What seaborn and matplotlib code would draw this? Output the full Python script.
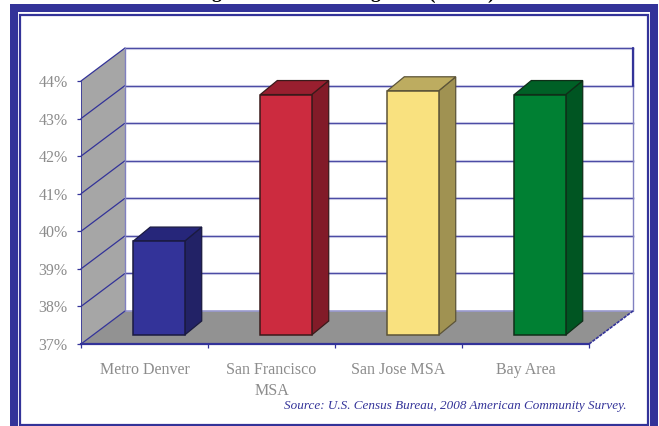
import numpy as np
import pandas as pd
import seaborn as sns
import matplotlib.pyplot as plt
from matplotlib.patches import Polygon, Rectangle
from matplotlib.ticker import FuncFormatter
from matplotlib.transforms import Affine2D

regioes = ["Metro Denver", "San Francisco\nMSA", "San Jose MSA", "Bay Area"]
valores = [39.5, 43.4, 43.5, 43.4]
cores_frente = ["#333399", "#CC2B3F", "#F9E17F", "#008033"]
cores_lado = ["#222266", "#821B28", "#A09252", "#005522"]
cores_topo = ["#26267A", "#991F2F", "#BDAC60", "#006026"]
cores_borda = ["#1A1A40", "#3A1A1A", "#5C5438", "#0F2E18"]
ticks_y = [37, 38, 39, 40, 41, 42, 43, 44]
# o titulo esta cortado no original: so as caudas destas letras aparecem
titulo_letras = ["g", "g", "(", ")"]
titulo_x = [216, 375, 431, 491]

AZUL = "#333399"
CINZA = "#8C8C8C"

sns.set_style("white")
plt.rcParams["font.family"] = ["Liberation Serif", "DejaVu Serif"]

fig = plt.figure(figsize=(6.59, 4.26), dpi=100)
W, H = 659, 426
ax = fig.add_axes([81 / W, (H - 344) / H, 508 / W, 263 / H])

table = pd.DataFrame({"regiao": regioes, "valor": valores})
sns.barplot(data=table, x="regiao", y="valor", hue="regiao", palette=cores_frente,
            legend=False, width=0.405, saturation=1, ax=ax, zorder=5)
ax.set_xlim(-0.5, 3.5)
ax.set_ylim(37, 44)


def desloca(dx, dy):
    # deslocamento em pixels, da frente para o fundo do "3D"
    return ax.transData + Affine2D().translate(dx, dy)


fundo = desloca(44, 33)
x0, x1 = -0.5, 3.5
px = 4 / 508  # pixel -> categoria
py = 7 / 263  # pixel -> pontos percentuais


def pts(xs, ys, dxs, dys):
    return [(x + dx * px, y + dy * py) for x, y, dx, dy in zip(xs, ys, dxs, dys)]


# paredes e chao
parede = Polygon(pts([x0, x0, x0, x0], [37, 44, 44, 37], [0, 0, 44, 44], [0, 0, 33, 33]),
                 closed=True, fc="#A6A6A6", ec="none", zorder=1, clip_on=False)
chao = Polygon(pts([x0, x1, x1, x0], [37, 37, 37, 37], [0, 0, 44, 44], [0, 0, 33, 33]),
               closed=True, fc="#929292", ec="none", zorder=1, clip_on=False)
ax.add_patch(parede)
ax.add_patch(chao)

# grades: fundo e diagonal na parede
for t in ticks_y:
    if t > 37:
        ax.plot([x0, x1], [t, t], color="#D8D8EC", lw=2.2, transform=fundo, zorder=2, clip_on=False)
        ax.plot([x0, x1], [t, t], color=AZUL, lw=0.9, alpha=0.85, transform=fundo, zorder=2, clip_on=False)
    else:
        ax.plot([x0, x1], [t, t], color="#9A9AD0", lw=1.2, transform=fundo, zorder=2, clip_on=False)
    ax.plot(*zip(*pts([x0, x0], [t, t], [0, 44], [0, 33])), color=AZUL, lw=0.9, zorder=2, clip_on=False)

# canto direito do fundo e aresta do chao
ax.plot([x1, x1], [37, 44], color="#8080C0", lw=1, transform=fundo, zorder=2, clip_on=False)
ax.plot([x1, x1], [43, 44], color=AZUL, lw=1.6, transform=fundo, zorder=2, clip_on=False)
ax.plot([x0, x0], [37, 44], color="#8080C0", lw=1, transform=fundo, zorder=2, clip_on=False)
ax.plot(*zip(*pts([x1, x1], [37, 37], [0, 44], [0, 33])), color=AZUL, lw=1.2, ls=(0, (2, 0.6)), zorder=3, clip_on=False)

# barras: frente vem do seaborn, lado e topo sao montados a partir dela
frente = desloca(14.5, 9)
prof_x, prof_y = 17, 14
for i, barra in enumerate(ax.patches[:len(valores)]):
    xb, larg = barra.get_x(), barra.get_width()
    v = valores[i]
    barra.set_y(37)
    barra.set_height(v - 37)
    barra.set_transform(frente)
    barra.set_edgecolor(cores_borda[i])
    barra.set_linewidth(1.1)
    barra.set_clip_on(False)
    xd = xb + larg
    lado = Polygon(pts([xd, xd, xd, xd], [37, v, v, 37], [0, 0, prof_x, prof_x], [0, 0, prof_y, prof_y]),
                   closed=True, fc=cores_lado[i], ec=cores_borda[i], lw=0.9, transform=frente, zorder=4, clip_on=False)
    topo = Polygon(pts([xb, xd, xd, xb], [v, v, v, v], [0, 0, prof_x, prof_x], [0, 0, prof_y, prof_y]),
                   closed=True, fc=cores_topo[i], ec=cores_borda[i], lw=0.9, transform=frente, zorder=4, clip_on=False)
    ax.add_patch(lado)
    ax.add_patch(topo)

# eixos
for lado_eixo in ["top", "right"]:
    ax.spines[lado_eixo].set_visible(False)
for s in ["left", "bottom"]:
    ax.spines[s].set_color(AZUL)
    ax.spines[s].set_zorder(6)
ax.spines["bottom"].set_linewidth(1.6)
ax.spines["left"].set_linewidth(0.6)
ax.patch.set_alpha(0)
ax.set_xlabel("")
ax.set_ylabel("")
ax.set_yticks(ticks_y)
ax.yaxis.set_major_formatter(FuncFormatter(lambda v, _: f"{v:.0f}%"))
ax.tick_params(axis="y", left=True, length=3, width=0.9, color=AZUL, labelcolor=CINZA, labelsize=11.5, pad=6.5)
ax.set_xticks(np.arange(len(regioes)))
ax.set_xticklabels(regioes, linespacing=1.45)
ax.set_xticks(np.arange(-0.5, 4), minor=True)
ax.tick_params(axis="x", which="major", length=0, labelcolor=CINZA, labelsize=11.5, pad=13)
ax.tick_params(axis="x", which="minor", bottom=True, length=3, width=0.9, color=AZUL)


# moldura
def moldura(x, y, w, h, **kw):
    fig.add_artist(Rectangle((x / W, 1 - (y + h) / H), w / W, h / H, transform=fig.transFigure, fill=False, **kw))


moldura(14, 8, 640, 430, ec=AZUL, lw=5.76)
moldura(20, 14.5, 628, 410, ec=AZUL, lw=1.6)

fig.text(627 / W, 1 - 409 / H, "Source: U.S. Census Bureau, 2008 American Community Survey.",
         color=AZUL, style="italic", fontsize=9.45, ha="right", va="baseline")
for letra, xt in zip(titulo_letras, titulo_x):
    fig.text(xt / W, 1 + 1.5 / H, letra, color="black", weight="bold", fontsize=14, ha="center", va="baseline")

fig.savefig("out.png", dpi=100)
